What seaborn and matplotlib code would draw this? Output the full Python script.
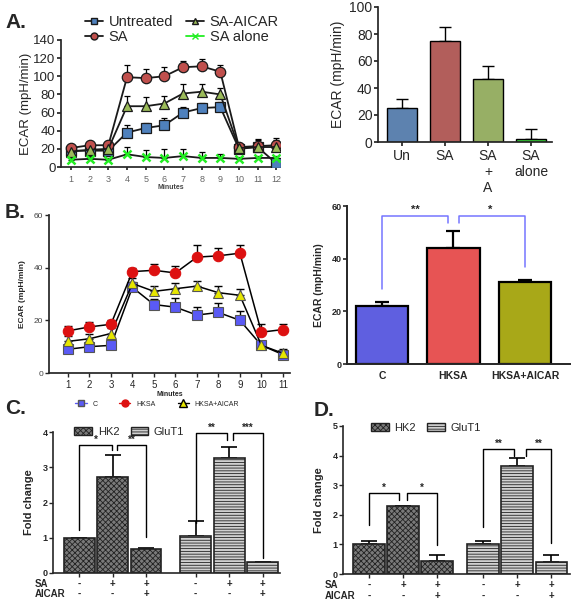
import numpy as np
import pandas as pd
import matplotlib
matplotlib.use("Agg")
import matplotlib.pyplot as plt
from matplotlib.lines import Line2D
from matplotlib.patches import Patch
import seaborn as sns

# ---------------- data ----------------
# Panel A line chart
minutes_a = [1, 2, 3, 4, 5, 6, 7, 8, 9, 10, 11, 12]
untreated = [18, 18, 18, 38, 43, 46, 60, 65, 66, 20, 22, 4]
untreated_err = [3, 3, 3, 8, 6, 8, 6, 6, 6, 3, 3, 3]
sa = [21, 24, 24, 99, 98, 100, 110, 111, 105, 22, 23, 24]
sa_err = [3, 3, 3, 13, 10, 10, 7, 8, 7, 3, 8, 8]
sa_aicar = [17, 19, 20, 67, 67, 70, 81, 83, 80, 21, 22, 22]
sa_aicar_err = [3, 3, 3, 11, 10, 8, 10, 8, 7, 3, 8, 8]
sa_alone = [8, 9, 8, 14, 11, 10, 12, 10, 10, 9, 10, 10]
sa_alone_err = [2, 2, 2, 8, 8, 10, 8, 6, 4, 2, 2, 2]

# Panel A bar chart
a_bar_labels = ["Un", "SA", "SA\n+\nA", "SA\nalone"]
a_bar_vals = [25, 75, 47, 2]
a_bar_err = [7, 10, 9, 8]

# Panel B line chart
minutes_b = [1, 2, 3, 4, 5, 6, 7, 8, 9, 10, 11]
b_c = [9, 10, 10.5, 32.5, 26, 25, 22, 23, 20, 10.5, 7]
b_c_err = [1, 1, 1, 2, 2, 3.5, 3, 3.5, 3.5, 1, 1.5]
b_hksa = [16, 17.5, 18.5, 38.5, 39, 38, 44, 44.5, 45.5, 15.5, 16.5]
b_hksa_err = [2, 2, 1.5, 1.5, 2.5, 2.5, 4.5, 3, 3, 3, 2]
b_aicar = [12, 13, 15, 34, 31, 32, 33, 30.5, 29.5, 10.5, 7.5]
b_aicar_err = [2, 2, 2, 2, 2, 2, 2, 2.5, 2.5, 1.5, 1.5]

# Panel B bar chart
b_bar_labels = ["C", "HKSA", "HKSA+AICAR"]
b_bar_vals = [22, 44, 31]
b_bar_err = [1.5, 6.5, 0.8]

# Panels C and D
genes = ["HK2", "HK2", "HK2", "GluT1", "GluT1", "GluT1"]
sa_signs = ["-", "+", "+", "-", "+", "+"]
aicar_signs = ["-", "-", "+", "-", "-", "+"]
c_vals = [1.0, 2.72, 0.68, 1.05, 3.25, 0.30]
c_err = [0.0, 0.63, 0.03, 0.42, 0.32, 0.0]
d_vals = [1.0, 2.30, 0.45, 1.0, 3.65, 0.40]
d_err = [0.12, 0.0, 0.20, 0.12, 0.28, 0.25]

# ---------------- style ----------------
sns.set_theme(style="ticks")
plt.rcParams["font.family"] = ["Liberation Sans", "DejaVu Sans"]
plt.rcParams["hatch.linewidth"] = 0.6

W, H = 573, 600
fig = plt.figure(figsize=(W / 100, H / 100), dpi=100)
fig.patch.set_facecolor("white")


def px_axes(l, t, r, b):
    return fig.add_axes([l / W, 1 - b / H, (r - l) / W, (b - t) / H])


def up_err(ax, x, y, e, color="black", lw=1.0, cap=3, z=2):
    ax.errorbar(x, y, yerr=[np.zeros(len(e)), e], fmt="none", ecolor=color,
                elinewidth=lw, capsize=cap, capthick=lw, zorder=z)


# ================= Panel A line =================
axA = px_axes(61, 40, 280, 167)
series_a = [
    (untreated, untreated_err, "Untreated", "s", "#4f81bd", 6.5),
    (sa, sa_err, "SA", "o", "#c0504d", 7.5),
    (sa_aicar, sa_aicar_err, "SA-AICAR", "^", "#9bbb59", 7.5),
    (sa_alone, sa_alone_err, "SA alone", "x", "#22ee22", 6),
]
for vals, err, lab, mk, col, ms in series_a:
    up_err(axA, minutes_a, vals, err, lw=0.9, cap=2.5)
    sns.lineplot(x=minutes_a, y=vals, ax=axA, color="#1a1a1a", lw=1.3,
                 marker=mk, markersize=ms, markerfacecolor=col,
                 markeredgecolor=("#1a1a1a" if mk != "x" else col),
                 markeredgewidth=(0.9 if mk != "x" else 1.8), zorder=3)
axA.set_xlim(0.46, 12.2)
axA.set_ylim(0, 140)
axA.set_xticks(minutes_a)
axA.set_yticks(range(0, 141, 20))
axA.tick_params(axis="x", labelsize=6.5, labelcolor="#666666", length=2, pad=4)
axA.tick_params(axis="y", labelsize=9.5, length=3, pad=1)
axA.set_xlabel("Minutes", fontsize=5, fontweight="bold", labelpad=0, color="#444444")
axA.set_ylabel("ECAR (mpH/min)", fontsize=9.5, labelpad=1)
sns.despine(ax=axA)
handles_a = [
    Line2D([], [], color="#1a1a1a", marker="s", ms=5, mfc="#4f81bd", mec="#1a1a1a", lw=1.3),
    Line2D([], [], color="#1a1a1a", marker="o", ms=5, mfc="#c0504d", mec="#1a1a1a", lw=1.3),
    Line2D([], [], color="#1a1a1a", marker="^", ms=5, mfc="#9bbb59", mec="#1a1a1a", lw=1.3),
    Line2D([], [], color="#22ee22", marker="x", ms=5, mec="#22ee22", lw=1.3),
]
fig.legend(handles_a, ["Untreated", "SA", "SA-AICAR", "SA alone"], ncol=2,
           loc="upper left", bbox_to_anchor=(78 / W, 1 - 8 / H), frameon=False,
           fontsize=10.5, handlelength=1.2, handletextpad=0.4, columnspacing=0.9,
           labelspacing=0.05, borderpad=0)
fig.text(5 / W, 1 - 28 / H, "A.", fontsize=15, fontweight="bold")

# ================= Panel A bar =================
axAb = px_axes(378, 7, 552, 142)
dfa = pd.DataFrame({"cat": a_bar_labels, "val": a_bar_vals})
sns.barplot(data=dfa, x="cat", y="val", hue="cat", ax=axAb, legend=False,
            palette=["#4f81bd", "#c0504d", "#9bbb59", "#22ee22"],
            width=0.7, edgecolor="black", linewidth=1.0, errorbar=None, zorder=2)
up_err(axAb, range(4), a_bar_vals, a_bar_err, lw=1.0, cap=4, z=1)
axAb.set_xlim(-0.56, 3.49)
axAb.set_ylim(0, 100)
axAb.set_yticks(range(0, 101, 20))
axAb.tick_params(axis="y", labelsize=10, length=3, pad=1)
axAb.tick_params(axis="x", labelsize=10, length=3, pad=2)
axAb.set_xlabel("")
axAb.set_ylabel("ECAR (mpH/min)", fontsize=10, labelpad=3)
sns.despine(ax=axAb)

# ================= Panel B line =================
axB = px_axes(49, 215, 290, 373)
series_b = [
    (b_c, b_c_err, "s", "#5a5af5", 7),
    (b_aicar, b_aicar_err, "^", "#e6e600", 7.5),
    (b_hksa, b_hksa_err, "o", "#dd1111", 7.5),
]
for vals, err, mk, col, ms in series_b:
    up_err(axB, minutes_b, vals, err, lw=1.0, cap=3)
    sns.lineplot(x=minutes_b, y=vals, ax=axB, color="black", lw=1.1,
                 marker=mk, markersize=ms, markerfacecolor=col,
                 markeredgecolor=("#555555" if mk != "o" else col),
                 markeredgewidth=0.8, zorder=3)
axB.set_xlim(0.12, 11.33)
axB.set_ylim(0, 60)
axB.set_xticks(minutes_b)
axB.set_yticks([0, 20, 40, 60])
axB.tick_params(axis="x", labelsize=7, length=3, pad=2, width=1)
axB.tick_params(axis="y", labelsize=6, labelcolor="#444444", length=3, pad=1, width=1)
axB.set_xlabel("Minutes", fontsize=5, fontweight="bold", labelpad=1)
axB.set_ylabel("ECAR (mpH/min)", fontsize=6, fontweight="bold", labelpad=6)
sns.despine(ax=axB)
handles_b = [
    Line2D([], [], color="#5a5af5", marker="s", ms=5, mfc="#5a5af5", mec="#555555", lw=1.0),
    Line2D([], [], color="#dd1111", marker="o", ms=5, mfc="#dd1111", mec="#dd1111", lw=1.0),
    Line2D([], [], color="black", marker="^", ms=6, mfc="#e6e600", mec="black", lw=1.0),
]
fig.legend(handles_b, ["C", "HKSA", "HKSA+AICAR"], ncol=3, loc="center left",
           bbox_to_anchor=(72 / W, 1 - 404 / H), frameon=False, fontsize=5,
           handlelength=1.6, handletextpad=0.8, columnspacing=3.2, borderpad=0)
fig.text(5 / W, 1 - 218 / H, "B.", fontsize=15, fontweight="bold")

# ================= Panel B bar =================
axBb = px_axes(347, 206, 570, 364)
dfb = pd.DataFrame({"cat": b_bar_labels, "val": b_bar_vals})
sns.barplot(data=dfb, x="cat", y="val", hue="cat", ax=axBb, legend=False,
            palette=["#4a4af5", "#ff3b3b", "#c0c000"], width=0.74,
            edgecolor="black", linewidth=1.6, errorbar=None, zorder=2)
up_err(axBb, range(3), b_bar_vals, b_bar_err, lw=1.6, cap=5, z=1)
axBb.set_xlim(-0.49, 2.63)
axBb.set_ylim(0, 60)
axBb.set_yticks([0, 20, 40, 60])
axBb.tick_params(axis="y", labelsize=6.5, length=3, pad=1, width=1.2)
axBb.tick_params(axis="x", labelsize=7.5, length=0, pad=5)
for t in axBb.get_xticklabels() + axBb.get_yticklabels():
    t.set_fontweight("bold")
axBb.set_xlabel("")
axBb.set_ylabel("ECAR (mpH/min)", fontsize=7.5, fontweight="bold", labelpad=5)
for s in ["left", "bottom"]:
    axBb.spines[s].set_linewidth(1.4)
sns.despine(ax=axBb)
bc = "#7575ff"
axBb.plot([0, 0, 0.92, 0.92], [28.5, 56.2, 56.2, 53.5], color=bc, lw=1.1, clip_on=False)
axBb.plot([1.08, 1.08, 2.0, 2.0], [53.5, 56.2, 56.2, 36.8], color=bc, lw=1.1, clip_on=False)
axBb.text(0.46, 56.8, "**", ha="center", va="bottom", fontsize=8, fontweight="bold")
axBb.text(1.52, 56.8, "*", ha="center", va="bottom", fontsize=8, fontweight="bold")


# ================= Panels C & D =================
def hatch_bars(ax):
    bars = sorted(ax.patches, key=lambda p: p.get_x())
    for i, p in enumerate(bars):
        if i < 3:
            p.set_facecolor("#7a7a7a")
            p.set_hatch("xxxxxx")
        else:
            p.set_facecolor("#d0d0d0")
            p.set_hatch("------")
        p.set_edgecolor("#222222")
        p.set_linewidth(1.2)


def bracket(ax, x0, x1, y0, yh, y1, label, fs):
    ax.plot([x0, x0, x1, x1], [y0, yh, yh, y1], color="black", lw=1.0, clip_on=False)
    ax.text((x0 + x1) / 2, yh, label, ha="center", va="bottom", fontsize=fs,
            fontweight="bold")


def fold_panel(l, t, r, b, pos, vals, err, ymax, xlim, brackets, leg):
    ax = px_axes(l, t, r, b)
    sns.barplot(x=pos, y=vals, native_scale=True, width=0.92, ax=ax,
                color="#8a8a8a", errorbar=None, zorder=2)
    hatch_bars(ax)
    up_err(ax, pos, vals, err, lw=1.2, cap=6, z=1)
    ax.set_xlim(*xlim)
    ax.set_ylim(0, ymax)
    ax.set_yticks(range(0, ymax + 1))
    ax.set_xticks(pos)
    ax.set_xticklabels([])
    ax.tick_params(axis="x", length=3, width=1)
    ax.tick_params(axis="y", labelsize=6.5, length=3, pad=1, width=1)
    for tl in ax.get_yticklabels():
        tl.set_fontweight("bold")
    ax.set_xlabel("")
    ax.set_ylabel("Fold change", fontsize=8, fontweight="bold", labelpad=6)
    for s in ["left", "bottom"]:
        ax.spines[s].set_linewidth(1.2)
    sns.despine(ax=ax)
    for br in brackets:
        bracket(ax, *br)
    for p, s1, s2 in zip(pos, sa_signs, aicar_signs):
        ax.text(p, -0.075, s1, transform=ax.get_xaxis_transform(), ha="center",
                va="center", fontsize=7, fontweight="bold")
        ax.text(p, -0.15, s2, transform=ax.get_xaxis_transform(), ha="center",
                va="center", fontsize=7, fontweight="bold")
    ax.text(xlim[0] - 0.55, -0.075, "SA", transform=ax.get_xaxis_transform(),
            ha="left", va="center", fontsize=7, fontweight="bold")
    ax.text(xlim[0] - 0.55, -0.15, "AICAR", transform=ax.get_xaxis_transform(),
            ha="left", va="center", fontsize=7, fontweight="bold")
    lh = [Patch(facecolor="#7a7a7a", edgecolor="#222222", hatch="xxxxxx"),
          Patch(facecolor="#d0d0d0", edgecolor="#222222", hatch="------")]
    ax.legend(lh, ["HK2", "GluT1"], ncol=2, loc="upper left",
              bbox_to_anchor=leg[0], frameon=False, fontsize=leg[1],
              handlelength=1.6, handleheight=0.8, handletextpad=0.5,
              columnspacing=1.0, borderpad=0)
    return ax


pos_c = [0, 1, 2, 3.48, 4.48, 5.48]
br_c = [
    (0, 0.98, 1.22, 3.63, 3.49, "*", 7),
    (1.12, 2, 3.49, 3.63, 1.02, "**", 7),
    (3.48, 4.42, 1.42, 3.97, 3.77, "**", 7),
    (4.6, 5.48, 3.77, 3.97, 0.42, "***", 7),
]
fold_panel(53, 432, 280, 573, pos_c, c_vals, c_err, 4, (-0.78, 6.0), br_c,
           ((0.07, 1.075), 8))
fig.text(5 / W, 1 - 414 / H, "C.", fontsize=15, fontweight="bold")

pos_d = [0, 1, 2, 3.35, 4.35, 5.35]
br_d = [
    (0, 0.88, 1.66, 2.74, 2.5, "*", 7),
    (1.12, 2, 2.5, 2.74, 0.98, "*", 7),
    (3.35, 4.26, 1.59, 4.22, 3.99, "**", 7),
    (4.6, 5.35, 3.99, 4.22, 1.05, "**", 7),
]
fold_panel(343, 426, 570, 574, pos_d, d_vals, d_err, 5, (-0.76, 5.9), br_d,
           ((0.1, 1.06), 8))
fig.text(314 / W, 1 - 416 / H, "D.", fontsize=15, fontweight="bold")

fig.savefig("out.png", dpi=100)
